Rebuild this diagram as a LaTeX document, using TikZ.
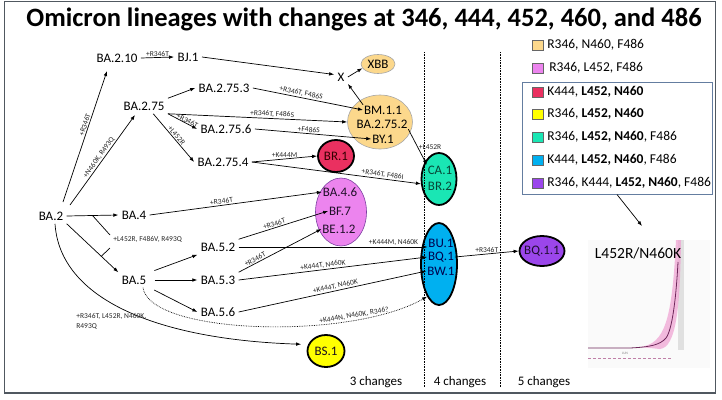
\documentclass[tikz,border=0pt]{standalone}
\usepackage{fontspec}
\setmainfont{Carlito}
\usetikzlibrary{shapes.geometric,arrows.meta}
\definecolor{cOra}{RGB}{252,216,140}
\definecolor{cVio}{RGB}{236,132,238}
\definecolor{cVioD}{RGB}{123,63,160}
\definecolor{cRed}{RGB}{234,48,96}
\definecolor{cYel}{RGB}{255,255,0}
\definecolor{cTeal}{RGB}{26,230,180}
\definecolor{cBlue}{RGB}{0,176,240}
\definecolor{cPur}{RGB}{155,70,235}
\definecolor{cFrame}{RGB}{80,88,96}
\definecolor{cLegFrame}{RGB}{100,125,160}
\definecolor{cBand}{RGB}{240,160,210}
\definecolor{cCurve}{RGB}{110,40,90}
\begin{document}
\begin{tikzpicture}[x=1pt,y=-1pt,>={Latex[length=5pt,width=3.6pt]},line width=0.7pt,
  lin/.style={font=\fontsize{13}{15}\selectfont,inner sep=1.5pt,outer sep=2pt},
  tin/.style={font=\fontsize{13}{15}\selectfont,inner sep=1pt,outer sep=0pt},
  chg/.style={font=\fontsize{7.5}{9}\selectfont,inner sep=1pt,text=black!85},
  blob/.style={ellipse,draw=black,line width=1.8pt,inner sep=0pt},
  soft/.style={ellipse,draw=gray!70,line width=0.6pt,inner sep=0pt},
  swatch/.style={draw=gray!80!black,line width=0.6pt,minimum width=11pt,minimum height=10pt,inner sep=0pt},
  leg/.style={font=\fontsize{13.5}{16}\selectfont,anchor=west,inner sep=0pt}]

\useasboundingbox (0,0) rectangle (722,399);
\draw[line width=1.3pt,draw=cFrame] (4.5,1.5) rectangle (715.5,393);

\node[font=\bfseries\fontsize{26.5}{30}\selectfont] (title) at (364,19.5)
  {Omicron lineages with changes at 346, 444, 452, 460, and 486};

% lineages
\node[lin] (ba2)    at (51,216)  {BA.2};
\node[lin] (ba210)  at (117,58)  {BA.2.10};
\node[lin] (bj1)    at (188,57)  {BJ.1};
\node[lin] (ba275)  at (144,106) {BA.2.75};
\node[lin] (ba2753) at (224,88)  {BA.2.75.3};
\node[lin] (ba2756) at (226,129) {BA.2.75.6};
\node[lin] (ba2754) at (223,162) {BA.2.75.4};
\node[lin] (ba4)    at (134,215) {BA.4};
\node[lin] (ba5)    at (134,280) {BA.5};
\node[lin] (ba52)   at (218,247) {BA.5.2};
\node[lin] (ba53)   at (218,280) {BA.5.3};
\node[lin] (ba56)   at (218,312) {BA.5.6};
\node[lin] (xx)     at (341,77)  {X};

% coloured groups
\node[soft,fill=cOra,minimum width=34pt,minimum height=19pt] (xbb) at (378,64) {};
\node[tin] (xbbt) at (xbb) {XBB};
\node[soft,fill=cOra,minimum width=65pt,minimum height=54pt] (bmell) at (380,122) {};
\node[tin] (bm11)   at (383,110) {BM.1.1};
\node[tin] (ba2752) at (382,124) {BA.2.75.2};
\node[tin] (by1)    at (383,139) {BY.1};
\node[blob,fill=cRed,minimum width=36pt,minimum height=32pt] (br1) at (336,156) {};
\node[tin,text=black!80!red] (br1t) at (br1) {BR.1};
\node[soft,draw=cVioD,fill=cVio,minimum width=51pt,minimum height=68pt] (pink) at (341,212) {};
\node[tin,text=black!75!cVioD] (ba46) at (340,192) {BA.4.6};
\node[tin,text=black!75!cVioD] (bf7)  at (340,211) {BF.7};
\node[tin,text=black!75!cVioD] (be12) at (339,229) {BE.1.2};
\node[blob,fill=cTeal,minimum width=35pt,minimum height=52pt] (caell) at (439,179) {};
\node[tin,text=black!70!cTeal] (ca1) at (440,170) {CA.1};
\node[tin,text=black!70!cTeal] (br2) at (440,186) {BR.2};
\node[blob,fill=cBlue,minimum width=36pt,minimum height=82pt] (bluell) at (439,264) {};
\node[tin,text=black!70!blue] (bu1) at (441,243) {BU.1};
\node[tin,text=black!70!blue] (bq1) at (441,257) {BQ.1};
\node[tin,text=black!70!blue] (bw1) at (441,271) {BW.1};
\node[blob,fill=cPur,minimum width=45pt,minimum height=30pt] (bq11) at (542,251) {};
\node[tin,text=black!80!cPur] (bq11t) at (bq11) {BQ.1.1};
\node[blob,fill=cYel,minimum width=37pt,minimum height=32pt] (bs1) at (326,351) {};
\node[tin,text=black!80!cVioD] (bs1t) at (bs1) {BS.1};

% changes
\draw[->] ([xshift=12pt,yshift=14pt]ba2.center) -- node[chg,sloped,above,pos=.58] (m1) {+R346T} ([xshift=-10pt,yshift=-13pt]ba210.center);
\draw[->] ([xshift=19pt,yshift=11pt]ba2.center) -- node[chg,sloped,above,pos=.5] (m2) {+N460K, R493Q} ([xshift=-9pt,yshift=-9pt]ba275.center);
\draw[->] (ba210.east) -- node[chg,above] (m3) {+R346T} (bj1.west);
\draw[->] (bj1.east) -- (xx.160);
\draw[->] (bm11.north west) -- (xx.-45);
\draw[->] (xx.east) -- (xbb.195);
\draw[->] (ba275.north east) -- (ba2753.west);
\draw[->] (ba275.south east) -- node[chg,sloped,above,pos=.58] (m4) {+R346T, F486S} (bmell.west);
\draw[->] (ba275.south east) -- node[chg,sloped,above,pos=.62,inner sep=0pt] (m5) {+R346T} (ba2756.west);
\draw[->] (ba275.-40) -- node[chg,sloped,above,pos=.5] (m6) {+L452R} (ba2754.west);
\draw[->] (ba2753.east) -- node[chg,sloped,above,pos=.43] (m7) {+R346T, F486S} (bm11.west);
\draw[->] (ba2756.east) -- node[chg,sloped,above,pos=.46] (m8) {+F486S} (by1.west);
\draw[->] (ba2754.east) -- node[chg,above] (m9) {+K444M} (br1.west);
\draw[->] (ba2754.east) -- node[chg,sloped,above,pos=.77] (m10) {+R346T, F486I} (caell.195);
\draw[->] (ba2752.south east) -- node[chg,right] (m11) {+L452R} (ca1.north west);

\draw[->] (ba2.east) -- coordinate[pos=.5] (k1) (ba4.west);
\draw[->] (ba2.south east) -- coordinate[pos=.67] (k2) (ba5.north west);
\node[chg,anchor=west] (m12) at (112,239) {+L452R, F486V, R493Q};
\draw (k1) -- ([xshift=-2pt,yshift=4pt]m12.west);
\draw (k2) -- ([xshift=-2pt,yshift=-9pt]m12.west);

\draw[->] (ba4.east) -- node[chg,sloped,above,pos=.42] (m13) {+R346T} (ba46.west);
\draw[->,shorten <=5pt] (ba5.north east) -- (ba52.south west);
\draw[->,shorten <=5pt] (ba5.east) -- (ba53.west);
\draw[->,shorten <=5pt] (ba5.south east) -- (ba56.west);
\draw[->] (ba52.north east) -- node[chg,sloped,above,pos=.41] (m14) {+R346T} (bf7.west);
\draw[->] (ba53.north east) -- node[chg,sloped,above,pos=.22] (m15) {+R346T} (be12.west);
\draw[->] (ba52.east) -- node[chg,above,pos=.82] (m16) {+K444M, N460K} (ba52.east -| bu1.west);
\draw[->] (ba53.east) -- node[chg,sloped,above,pos=.45] (m17) {+K444T, N460K} (bq1.west);
\draw[->] (ba56.east) -- node[chg,sloped,above,pos=.52] (m18) {+K444T, N460K} (bw1.west);
\draw[->,densely dotted] ([xshift=9pt]ba5.south) .. controls +(7,47) and +(-77,44) ..
  node[chg,sloped,above,pos=.76] (m19) {+K444N, N460K, R346?} (bluell.250);
\draw[->,shorten >=7pt] ([xshift=4pt]ba2.south) .. controls +(5,76) and +(-150,-5) .. (bs1.160);
\node[chg,font=\fontsize{7.5}{10}\selectfont,anchor=north west,align=left] (m20) at (75,312)
  {+R346T, L452R, N460K,\\R493Q};
\draw[->] (bq1.east) -- node[chg,above] (m21) {+R346T} (bq11.west);

% number of changes
\draw[densely dotted,line width=0.6pt] (424,52) -- (424,387);
\draw[densely dotted,line width=0.6pt] (500,52) -- (500,387);
\node[lin] (c3) at (376,382) {3 changes};
\node[lin] (c4) at (460,382) {4 changes};
\node[lin] (c5) at (544,382) {5 changes};

% legend
\node[swatch,fill=cOra]  (s1) at (537.5,45)  {};
\node[leg] (t1) at (547,45)  {R346, N460, F486};
\node[swatch,fill=cVio]  (s2) at (537.5,68)  {};
\node[leg] (t2) at (549,68)  {R346, L452, F486};
\node[swatch,fill=cRed]  (s3) at (537.5,92)  {};
\node[leg] (t3) at (547,92)  {K444, \textbf{L452, N460}};
\node[swatch,fill=cYel]  (s4) at (537.5,114) {};
\node[leg] (t4) at (547,114) {R346, \textbf{L452, N460}};
\node[swatch,fill=cTeal] (s5) at (537.5,137) {};
\node[leg] (t5) at (547,137) {R346, \textbf{L452, N460}, F486};
\node[swatch,fill=cBlue] (s6) at (537.5,160) {};
\node[leg] (t6) at (547,160) {K444, \textbf{L452, N460}, F486};
\node[swatch,fill=cPur]  (s7) at (537.5,183) {};
\node[leg] (t7) at (547,183) {R346, K444, \textbf{L452, N460}, F486};
\node[draw=cLegFrame,line width=1pt,minimum width=190pt,minimum height=112pt,inner sep=0pt] (legbox) at (617,138) {};

% inset growth plot
\fill[black!2] (588,240) rectangle (710,368);
\fill[black!12] (678,240) rectangle (684,350);
\fill[cBand,opacity=.7] (640,347) .. controls (665,344) and (672,320) .. (676,240)
  -- (681,240) .. controls (680,310) and (676,347) .. (660,349) -- cycle;
\draw[cCurve,line width=0.8pt] (588,348) -- (630,348) .. controls (650,347) and (660,345) .. (666,338)
  .. controls (672,330) and (676,300) .. (678,262);
\draw[cBand!80!black,densely dashed,line width=0.8pt] (588,358) -- (672,358);
\node[font=\fontsize{3.5}{4}\selectfont,text=gray] (jun) at (625,353) {JUN};
\node[font=\fontsize{15.5}{18}\selectfont] (inset) at (638,253) {L452R/N460K};
\coordinate (gtip) at (642,226);
\draw[->] (legbox.south) -- (gtip);
\end{tikzpicture}
\end{document}
